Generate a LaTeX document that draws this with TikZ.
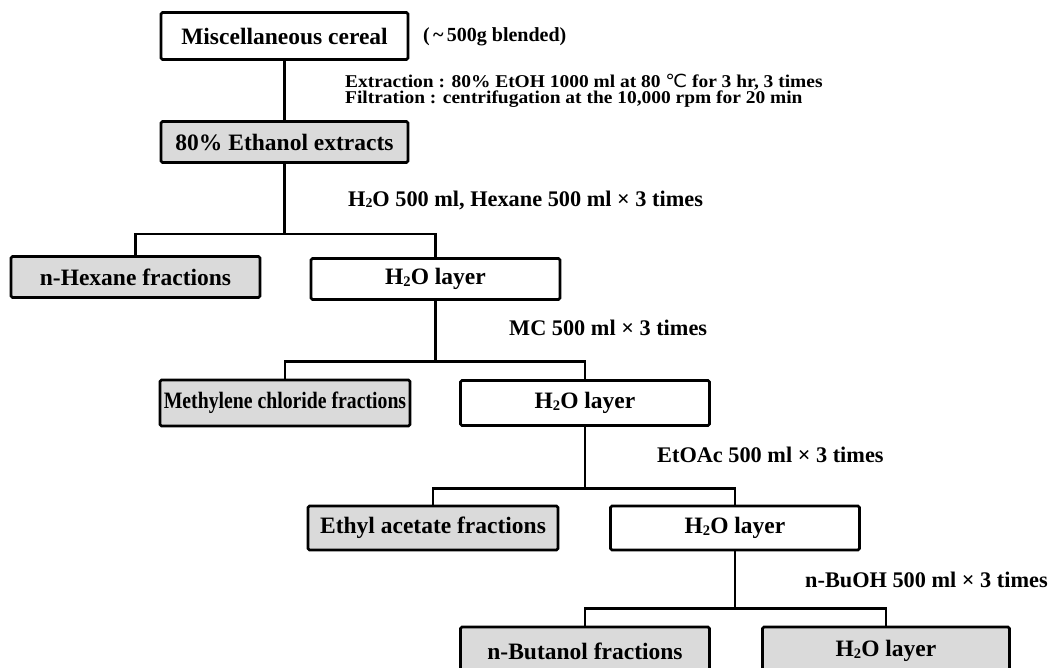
\documentclass[tikz,border=0pt]{standalone}
\usepackage{fontspec}
\usepackage{graphicx}
\setmainfont{Liberation Serif}
\newfontfamily\symfont{DejaVu Sans}
\definecolor{boxgray}{HTML}{DADADA}
\newcommand\water{H\raisebox{-0.08em}{\scalebox{0.62}{2}}O}
\newcommand\wide[1]{\scalebox{1.08}[1]{#1}}

\begin{document}
\begin{tikzpicture}[
        x=1pt,y=-1pt,
        layer/.style={draw=black,line width=2.8pt,rounded corners=1.5pt,fill=white,
            inner sep=0pt,minimum width=249pt,minimum height=41pt,
            font=\fontsize{23.5}{26}\selectfont\bfseries},
        frac/.style={layer,fill=boxgray},
        note/.style={anchor=west,inner sep=0pt,font=\fontsize{22.3}{24}\selectfont\bfseries},
        link/.style={line width=2.8pt},
        ]
    \clip (0,0) rectangle (1050,667);

    % start material
    \node [layer,minimum width=247pt,minimum height=47pt] (cereal) at (284.5,36) {Miscellaneous cereal};
    \node [note,font=\fontsize{20}{22}\selectfont\bfseries] (amount) at (423,37) {(\,\textasciitilde\,500g blended)};
    \node [note,align=left,font=\fontsize{18}{15}\selectfont\bfseries] (cond) at (345,91)
        {\wide{Extraction : 80\% EtOH 1000 ml at 80 {\symfont\mdseries ℃} for 3 hr, 3 times}\\
         \wide{Filtration : centrifugation at the 10,000 rpm for 20 min}};
    \node [frac,minimum width=247pt] (ethanol) at (284.5,142) {80\% Ethanol extracts};

    % hexane step
    \node [note] (hexstep) at (348,200) {\water\ 500 ml, Hexane 500 ml × 3 times};
    \node [frac] (hexane) at (135.5,277) {n-Hexane fractions};
    \node [layer] (w1) at (435.5,279) {\water\ layer};

    % methylene chloride step
    \node [note] (mcstep) at (509,328) {MC 500 ml × 3 times};
    \node [frac,minimum width=250pt,minimum height=46pt] (mc) at (285,403)
        {\scalebox{0.84}[1]{Methylene chloride fractions}};
    \node [layer,minimum height=45pt] (w2) at (585,403) {\water\ layer};

    % ethyl acetate step
    \node [note] (eastep) at (657,455) {EtOAc 500 ml × 3 times};
    \node [frac,minimum width=250pt,minimum height=44pt] (ea) at (433,528) {Ethyl acetate fractions};
    \node [layer,minimum height=44pt] (w3) at (735,528) {\water\ layer};

    % butanol step
    \node [note] (bustep) at (805,580) {n-BuOH 500 ml × 3 times};
    \node [frac,minimum height=48pt] (bu) at (585,651) {n-Butanol fractions};
    \node [frac,minimum width=247pt,minimum height=48pt] (w4) at (886,651) {\water\ layer};

    % connectors
    \draw [link] (cereal) -- (ethanol);
    \draw [link] (ethanol.south) -- ++(0,70) coordinate (j1);
    \draw [link] (hexane.north) |- (j1) -| (w1.north);
    \draw [link] (w1.south) -- ++(0,60.5) coordinate (j2);
    \draw [link] (mc.north) |- (j2) -| (w2.north);
    \draw [link] (w2.south) -- ++(0,61.5) coordinate (j3);
    \draw [link] (ea.north) |- (j3) -| (w3.north);
    \draw [link] (w3.south) -- ++(0,57) coordinate (j4);
    \draw [link] (bu.north) |- (j4) -| (w4.north);
\end{tikzpicture}
\end{document}
